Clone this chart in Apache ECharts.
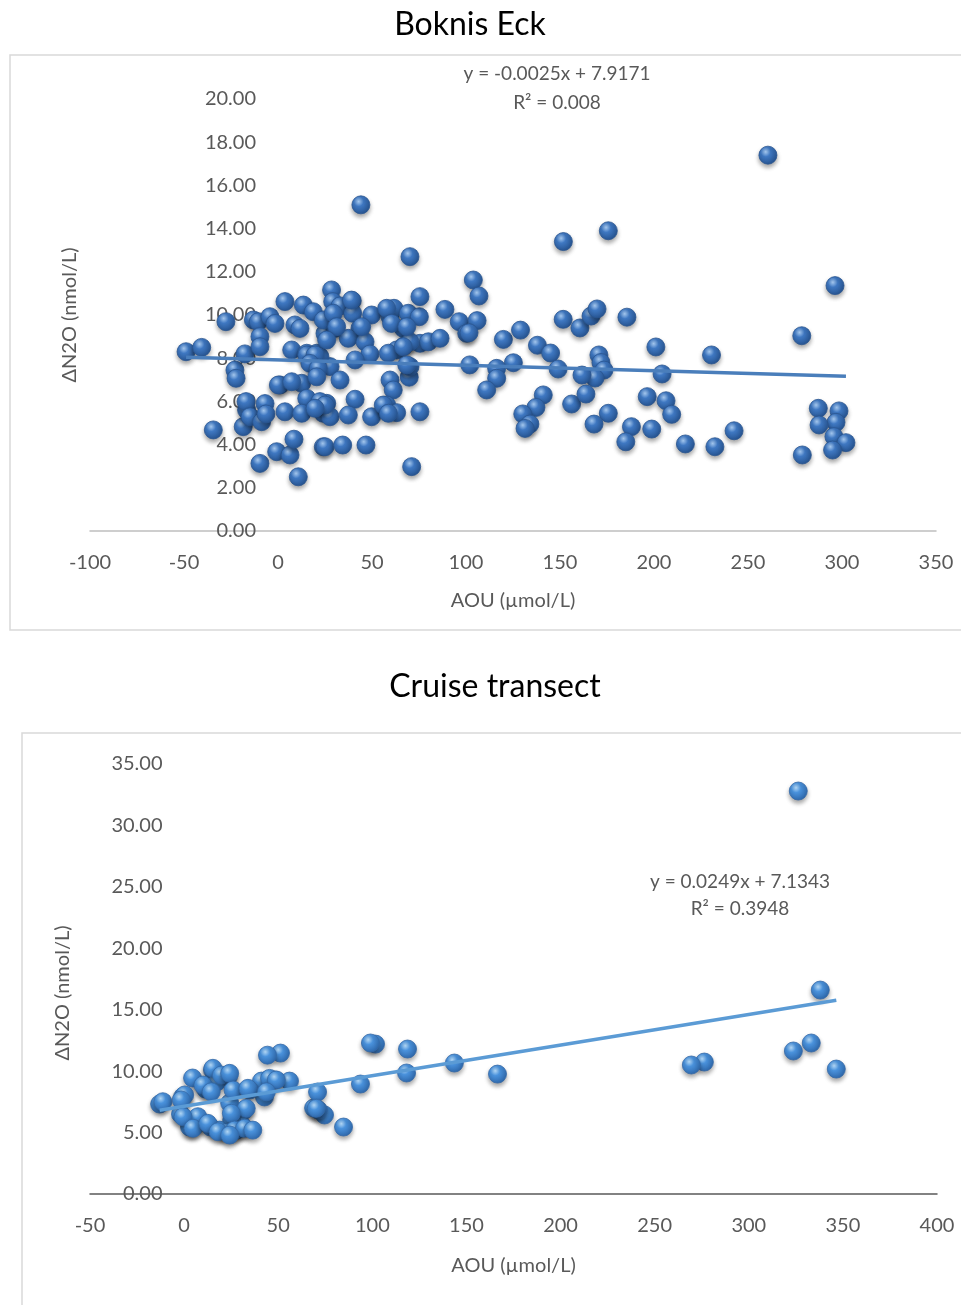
<!DOCTYPE html>
<html><head><meta charset="utf-8">
<script src="https://cdn.jsdelivr.net/npm/echarts@6/dist/echarts.min.js"></script>
<style>html,body{margin:0;padding:0;background:#fff}#c{width:961px;height:1305px}</style>
</head><body><div id="c"></div>
<script>
// ---- Boknis Eck data (AOU µmol/L, ΔN2O nmol/L) ----
const bokAOU = [-48.9,-40.6,-34.4,-27.7,-22.9,-22.3,-17.6,-18.5,-16.7,-17,-14.9,-8.7,-6.9,-6.4,-9.6,-0.7,6.4,8.5,10.8,
  -13.1,-10.5,-4.3,-1.6,-9.6,-9.6,3.7,13.5,18.8,9,11.7,7.3,15.3,20.6,25,1.1,12.6,15.3,3.7,12.6,24.1,24.1,
  28.5,29.1,39.5,33,30.3,39.7,43.6,49.8,37.4,46.3,48.9,41,27.7,22.3,33,
  59.6,61.7,66.7,69.3,75.2,75.5,88.8,67,63.1,75.5,80,86.2,96.4,100.4,103.9,106.9,102,59.6,61.3,69.8,41,25.9,27.7,37.4,49.8,57.8,63.1,75.5,25,34.4,46.8,71.1,
  24.1,29.4,31.2,25.9,15.3,19.7,17,21.4,20.6,0.2,7.3,22.3,25,19.7,56,58.7,
  39.1,57.8,44.5,58.7,70.2,60.4,70.2,68.5,66.6,68.5,70.2,44.1,
  105.9,101.6,119.9,125.2,116.3,116.3,111,129,138,145,149,151.7,151.8,175.7,160.6,166.5,169.7,185.6,201,170.7,171.8,173.4,168.6,161.7,204.3,230.6,
  141.1,137.2,130.2,134,131.4,156.2,163.8,175.7,168.1,188,185,198.8,196.4,206.4,209.4,216.7,232.4,242.6,
  260.6,278.6,296.3,287.4,298.4,296.8,287.8,295.7,302.1,295,278.9];
const bokN2O = [8.3,8.5,4.68,9.69,7.45,7.07,8.2,4.83,5.6,5.99,5.29,5.06,5.9,5.42,3.13,3.67,3.52,4.25,2.51,
  9.77,9.69,9.92,9.61,9.0,8.53,10.62,10.46,10.15,9.54,9.38,8.38,8.23,8.23,9.15,6.76,6.84,6.14,5.52,5.45,5.45,3.9,
  11.16,10.62,10.66,10.42,9.38,10.08,9.38,10.0,8.92,8.76,8.19,7.92,7.61,8.07,6.99,
  9.92,10.31,9.38,10.08,9.92,10.85,10.26,8.56,8.38,8.69,8.76,8.92,9.69,9.15,11.62,10.88,7.69,6.99,6.53,7.12,6.1,5.91,5.29,5.37,5.29,5.83,5.48,5.52,3.9,3.98,3.98,2.98,
  9.77,10.08,9.46,8.84,8.15,8.15,7.76,7.53,7.14,6.76,6.91,5.99,5.83,5.68,5.83,5.45,
  10.69,10.31,9.46,8.23,8.76,9.61,7.61,9.46,8.53,7.69,12.7,15.1,
  9.74,9.18,8.87,7.79,7.53,7.07,6.53,9.3,8.6,8.24,7.5,9.8,13.4,13.9,9.4,9.95,10.28,9.9,8.52,8.15,7.8,7.45,7.08,7.22,7.27,8.15,
  6.3,5.72,5.42,4.95,4.75,5.88,6.34,5.45,4.95,4.83,4.13,4.72,6.22,6.03,5.4,4.03,3.9,4.64,
  17.4,9.04,11.36,5.68,5.56,5.03,4.91,4.37,4.09,3.75,3.52];
const bokTrend = {slope: -0.0025, intercept: 7.9171, r2: '0.008'};
const bokXTicks = {min: -100, max: 350, interval: 50};
const bokYTicks = {min: 0, max: 20, interval: 2};

// ---- Cruise transect data ----
const cruAOU = [326.3,338,333.2,323.7,346.5,276.4,269.5,166.5,143.6,118.7,118.2,101.7,99,93.7,84.7,74.6,71.4,68.8,70.9,
  51.2,44.3,56,48,44.3,41.1,42.7,34.8,32.1,31.1,25.3,24.2,23.6,15.1,17.3,4.5,-0.8,-13,11.4,7.2,5.6,2.9,-1.9,14.1,18.9,23.1,27.9,
  -11.3,0.3,-1.5,15.3,10,19.8,24.2,14.4,26,33.9,45.4,49,43.7,33,25.1,7.3,-0.6,4.7,12.6,18,26.8,32.1,24.2,70.2,36.5];
const cruN2O = [32.8,16.6,12.29,11.64,10.17,10.74,10.5,9.76,10.66,11.8,9.85,12.2,12.29,8.95,5.45,6.43,6.83,7.0,8.3,
  11.47,11.3,9.19,9.28,9.28,9.19,7.9,8.46,6.83,5.53,6.02,7.4,9.6,10.09,9.11,9.44,7.9,7.32,8.54,6.18,5.53,5.45,6.5,5.45,5.2,5.04,5.2,
  7.51,8.06,7.65,10.23,8.87,9.68,9.82,8.32,8.46,8.6,9.41,9.28,8.32,6.97,6.57,6.29,6.29,5.35,5.75,5.07,5.2,5.35,4.8,6.97,5.2];
const cruTrend = {slope: 0.0249, intercept: 7.1343, r2: '0.3948'};
const cruXTicks = {min: -50, max: 400, interval: 50};
const cruYTicks = {min: 0, max: 35, interval: 5};

const FONT = 'Lato, "Open Sans", sans-serif';
const zip = (a, b) => a.map((v, i) => [v, b[i]]);
const trendLine = (xs, t) => {
  const lo = Math.min(...xs), hi = Math.max(...xs);
  return [[lo, t.intercept + t.slope * lo], [hi, t.intercept + t.slope * hi]];
};
const sphere = (mid, edge, hi) => ({
  type: 'radial', x: 0.38, y: 0.32, r: 0.75,
  colorStops: [{offset: 0, color: hi}, {offset: 0.35, color: mid}, {offset: 1, color: edge}]
});

const chart = echarts.init(document.getElementById('c'), null, {renderer: 'canvas'});
const axisLabel = {color: '#595959', fontSize: 20, fontFamily: FONT};
const nameStyle = {color: '#595959', fontSize: 20, fontFamily: FONT};

chart.setOption({
  backgroundColor: '#fff',
  animation: false,
  title: [
    {text: 'Boknis Eck', left: 465, top: 4, textAlign: 'center',
     textStyle: {fontFamily: FONT, fontSize: 32, fontWeight: 'normal', color: '#000'}},
    {text: 'Cruise transect', left: 490, top: 666, textAlign: 'center',
     textStyle: {fontFamily: FONT, fontSize: 32, fontWeight: 'normal', color: '#000'}}
  ],
  graphic: [
    {type: 'rect', shape: {x: 10, y: 55, width: 970, height: 575}, style: {fill: 'none', stroke: '#d9d9d9', lineWidth: 1.5}, z: -1},
    {type: 'rect', shape: {x: 22, y: 733, width: 960, height: 590}, style: {fill: 'none', stroke: '#d9d9d9', lineWidth: 1.5}, z: -1},
    {type: 'text', x: 557, y: 74, style: {text: 'y = ' + bokTrend.slope + 'x + ' + bokTrend.intercept, fill: '#595959', font: '19px ' + FONT, align: 'center', verticalAlign: 'middle'}},
    {type: 'text', x: 557, y: 103, style: {text: 'R² = ' + bokTrend.r2, fill: '#595959', font: '19px ' + FONT, align: 'center', verticalAlign: 'middle'}},
    {type: 'text', x: 740, y: 882, style: {text: 'y = ' + cruTrend.slope + 'x + ' + cruTrend.intercept, fill: '#595959', font: '19px ' + FONT, align: 'center', verticalAlign: 'middle'}},
    {type: 'text', x: 740, y: 909, style: {text: 'R² = ' + cruTrend.r2, fill: '#595959', font: '19px ' + FONT, align: 'center', verticalAlign: 'middle'}}
  ],
  grid: [
    {left: 90, width: 846, top: 99, height: 432, containLabel: false, outerBoundsMode: 'none'},
    {left: 90, width: 847, top: 764, height: 430, containLabel: false, outerBoundsMode: 'none'}
  ],
  xAxis: [
    {gridIndex: 0, type: 'value', min: bokXTicks.min, max: bokXTicks.max, interval: bokXTicks.interval,
     axisLine: {show: true, onZero: true, lineStyle: {color: '#bfbfbf', width: 1.5}}, axisTick: {show: false}, splitLine: {show: false},
     axisLabel: Object.assign({margin: 22}, axisLabel),
     name: 'AOU (µmol/L)', nameLocation: 'middle', nameGap: 60, nameTextStyle: nameStyle},
    {gridIndex: 1, type: 'value', min: cruXTicks.min, max: cruXTicks.max, interval: cruXTicks.interval,
     axisLine: {show: true, onZero: true, lineStyle: {color: '#595959', width: 1.5}}, axisTick: {show: false}, splitLine: {show: false},
     axisLabel: Object.assign({margin: 22}, axisLabel),
     name: 'AOU (µmol/L)', nameLocation: 'middle', nameGap: 62, nameTextStyle: nameStyle}
  ],
  yAxis: [
    {gridIndex: 0, type: 'value', min: bokYTicks.min, max: bokYTicks.max, interval: bokYTicks.interval,
     offset: -188,
     axisLine: {show: false, onZero: false}, axisTick: {show: false}, splitLine: {show: false},
     axisLabel: Object.assign({margin: 22, formatter: v => v.toFixed(2)}, axisLabel),
     name: 'ΔN2O (nmol/L)', nameLocation: 'middle', nameGap: 198, nameTextStyle: nameStyle},
    {gridIndex: 1, type: 'value', min: cruYTicks.min, max: cruYTicks.max, interval: cruYTicks.interval,
     offset: -94.5,
     axisLine: {show: false, onZero: false}, axisTick: {show: false}, splitLine: {show: false},
     axisLabel: Object.assign({margin: 22, formatter: v => v.toFixed(2)}, axisLabel),
     name: 'ΔN2O (nmol/L)', nameLocation: 'middle', nameGap: 112, nameTextStyle: Object.assign({padding: [0, 28, 0, 0]}, nameStyle)}
  ],
  series: [
    {type: 'scatter', xAxisIndex: 0, yAxisIndex: 0, data: zip(bokAOU, bokN2O), symbolSize: 18,
     itemStyle: {color: sphere('#3f78c2', '#234f8a', '#a9cdf5'), borderColor: '#2a5590', borderWidth: 0.8,
       shadowBlur: 4, shadowOffsetY: 3, shadowColor: 'rgba(0,0,0,0.35)', opacity: 1}},
    {type: 'line', xAxisIndex: 0, yAxisIndex: 0, data: trendLine(bokAOU, bokTrend), symbol: 'none',
     lineStyle: {color: '#4a7ebb', width: 3.5}, z: 3},
    {type: 'scatter', xAxisIndex: 1, yAxisIndex: 1, data: zip(cruAOU, cruN2O), symbolSize: 18,
     itemStyle: {color: sphere('#4a92dc', '#2b63a6', '#b6dcfb'), borderColor: '#3569a8', borderWidth: 0.8,
       shadowBlur: 4, shadowOffsetY: 3, shadowColor: 'rgba(0,0,0,0.35)', opacity: 1}},
    {type: 'line', xAxisIndex: 1, yAxisIndex: 1, data: trendLine(cruAOU, cruTrend), symbol: 'none',
     lineStyle: {color: '#5b9bd5', width: 3.5}, z: 3}
  ]
});
</script></body></html>
